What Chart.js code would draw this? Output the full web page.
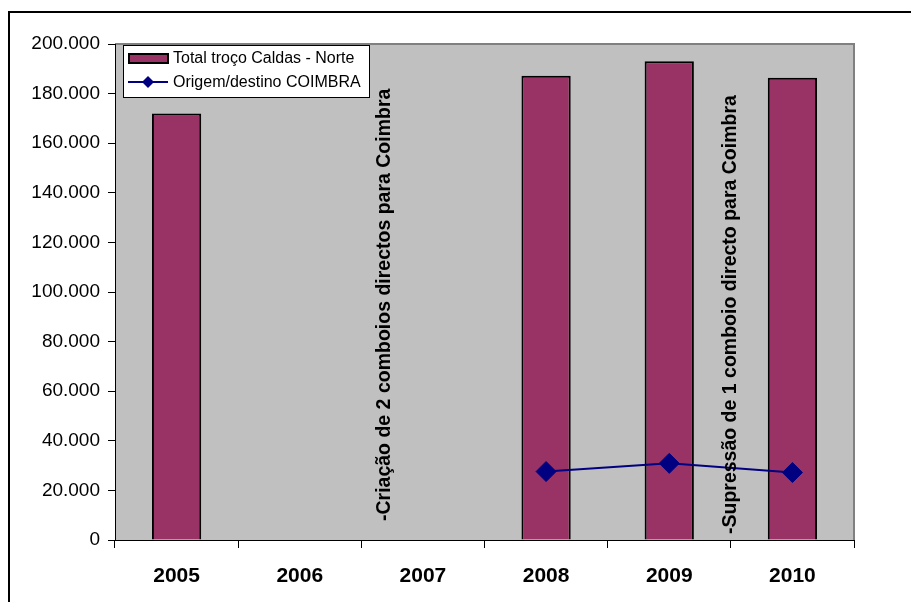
<!DOCTYPE html>
<html>
<head>
<meta charset="utf-8">
<script src="https://cdn.jsdelivr.net/npm/chart.js@4.4.0/dist/chart.umd.min.js"></script>
<style>
  body { margin: 0; background: #fff; }
  #wrap { width: 911px; height: 602px; }
</style>
</head>
<body>
<div id="wrap"><canvas id="chart" width="911" height="602"></canvas></div>
<script>
// Data
var years = ['2005', '2006', '2007', '2008', '2009', '2010'];
var totalCaldasNorte = [172000, null, null, 187200, 193000, 186400];
var origemCoimbra = [null, null, null, 27600, 30900, 27200];
var seriesNames = ['Total troço Caldas - Norte', 'Origem/destino COIMBRA'];
var notes = [
    { text: '-Criação de 2 comboios directos para Coimbra', x: 385, y: 521 },
    { text: '-Supressão de 1 comboio directo para Coimbra', x: 731, y: 534 }
];

var FONT = 'Arial, "Liberation Sans", sans-serif';

// thousands with a dot, like 200.000
function fmt(v) {
    return String(v).replace(/\B(?=(\d{3})+(?!\d))/g, '.');
}

// grey plot area + outer frame
var background = {
    id: 'background',
    beforeDraw: function (chart) {
        var c = chart.ctx, a = chart.chartArea;
        c.save();
        c.fillStyle = '#C0C0C0';
        c.fillRect(a.left, a.top, a.right - a.left, a.bottom - a.top);
        c.strokeStyle = '#808080';
        c.lineWidth = 2;
        c.beginPath();
        c.moveTo(a.left, a.top);
        c.lineTo(a.right, a.top);
        c.lineTo(a.right, a.bottom);
        c.stroke();
        c.strokeStyle = '#000';
        c.lineWidth = 2;
        c.beginPath();
        c.moveTo(9, 620);
        c.lineTo(9, 12);
        c.lineTo(930, 12);
        c.stroke();
        c.restore();
    }
};

// vertical text notes
var noteText = {
    id: 'noteText',
    afterDatasetsDraw: function (chart) {
        var c = chart.ctx;
        c.save();
        c.fillStyle = '#000';
        c.font = 'bold 19.5px ' + FONT;
        c.textAlign = 'left';
        c.textBaseline = 'middle';
        notes.forEach(function (n) {
            c.save();
            c.translate(n.x, n.y);
            c.rotate(-Math.PI / 2);
            c.fillText(n.text, 0, 0);
            c.restore();
        });
        c.restore();
    }
};

// Excel style legend box
var boxLegend = {
    id: 'boxLegend',
    afterDraw: function (chart) {
        var c = chart.ctx;
        var bar = chart.data.datasets[1];
        var line = chart.data.datasets[0];
        c.save();
        c.fillStyle = '#fff';
        c.fillRect(123, 45, 246, 52);
        c.strokeStyle = '#000';
        c.lineWidth = 1;
        c.strokeRect(123.5, 45.5, 246, 52);
        // bar swatch
        c.fillStyle = bar.backgroundColor;
        c.fillRect(129, 54, 39, 9);
        c.lineWidth = 2;
        c.strokeRect(129, 54, 39, 9);
        // line swatch
        c.strokeStyle = line.borderColor;
        c.lineWidth = 2;
        c.beginPath();
        c.moveTo(128, 82);
        c.lineTo(168, 82);
        c.stroke();
        c.fillStyle = line.pointBackgroundColor;
        c.beginPath();
        c.moveTo(148, 76);
        c.lineTo(154, 82);
        c.lineTo(148, 88);
        c.lineTo(142, 82);
        c.closePath();
        c.fill();
        c.fillStyle = '#000';
        c.font = '16px ' + FONT;
        c.textBaseline = 'middle';
        c.fillText(bar.label, 173, 59);
        c.fillText(line.label, 173, 83);
        c.restore();
    }
};

new Chart(document.getElementById('chart'), {
    type: 'bar',
    data: {
        labels: years,
        datasets: [{
            type: 'line',
            label: seriesNames[1],
            data: origemCoimbra,
            borderColor: '#000080',
            borderWidth: 2,
            pointStyle: 'rectRot',
            pointRadius: 10,
            pointBackgroundColor: '#000080',
            pointBorderColor: '#000080',
            pointBorderWidth: 1,
            spanGaps: false,
            order: 0
        }, {
            label: seriesNames[0],
            data: totalCaldasNorte,
            backgroundColor: '#993366',
            borderColor: '#000',
            borderWidth: 2,
            borderSkipped: 'bottom',
            categoryPercentage: 1,
            barPercentage: 0.4,
            order: 1
        }]
    },
    options: {
        responsive: false,
        animation: false,
        layout: { padding: { top: 44, right: 57, left: 0, bottom: 0 } },
        plugins: {
            legend: { display: false },
            tooltip: { enabled: false }
        },
        scales: {
            x: {
                offset: true,
                grid: { offset: true, drawOnChartArea: false, drawTicks: true, tickLength: 8, color: '#000' },
                border: { color: '#000', width: 1 },
                ticks: { color: '#000', padding: 16, font: { family: FONT, size: 21, weight: 'bold' } },
                afterFit: function (s) { s.height = 62; }
            },
            y: {
                min: 0,
                max: 200000,
                ticks: {
                    stepSize: 20000,
                    color: '#000',
                    padding: 8,
                    font: { family: FONT, size: 19 },
                    callback: function (v) { return fmt(v); }
                },
                grid: { drawOnChartArea: false, drawTicks: true, tickLength: 7, color: '#000' },
                border: { color: '#000', width: 1 },
                afterFit: function (s) { s.width = 115; }
            }
        }
    },
    plugins: [background, noteText, boxLegend]
});
</script>
</body>
</html>
